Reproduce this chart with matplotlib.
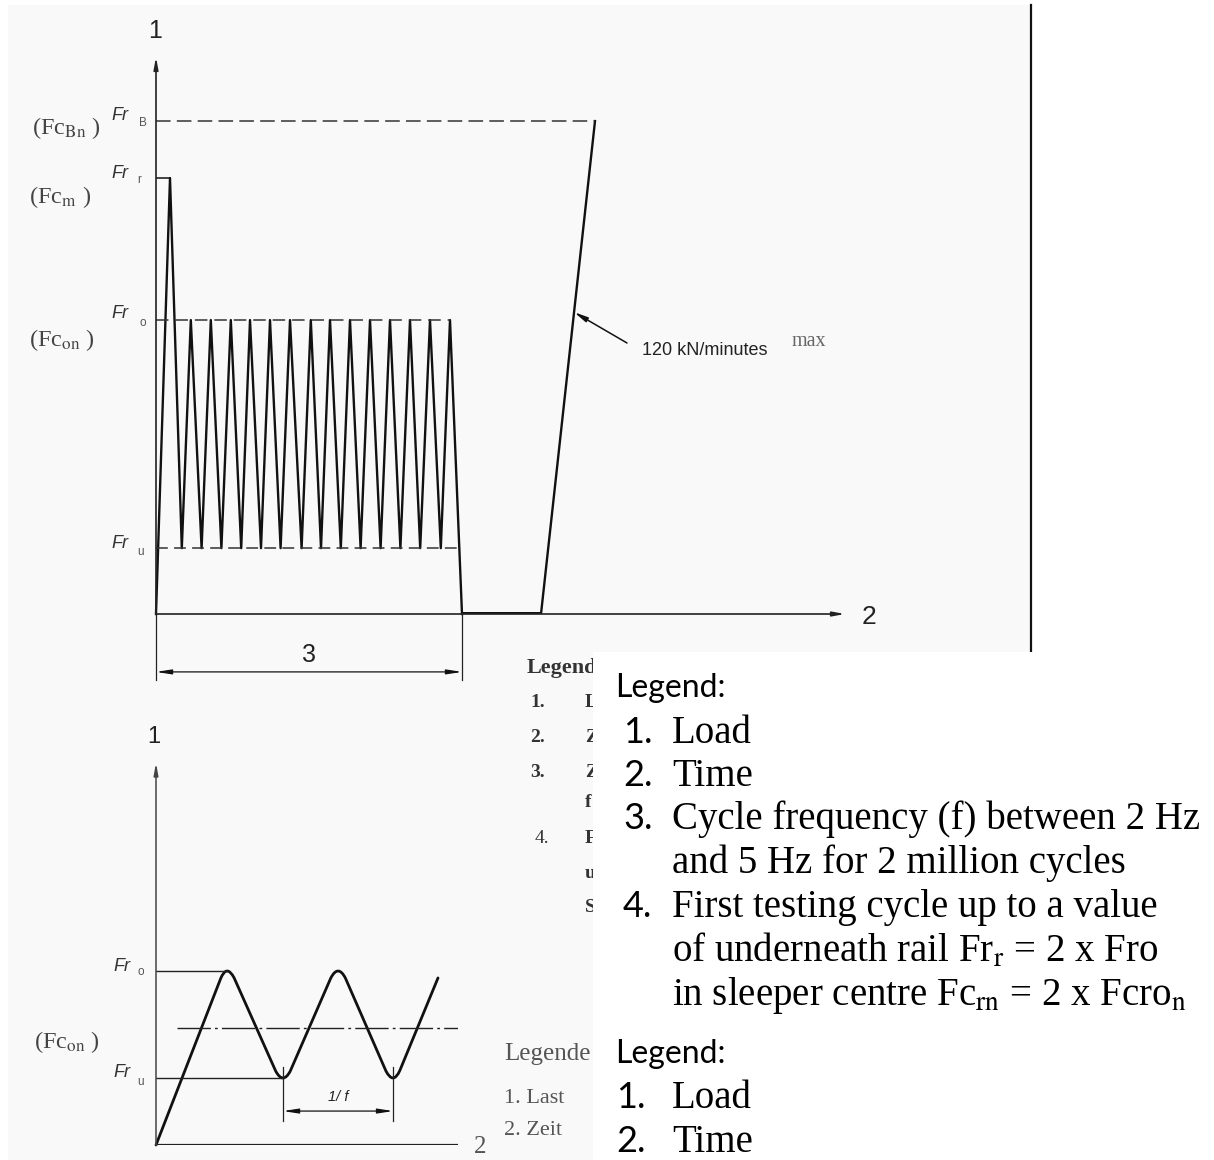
import numpy as np
import matplotlib
matplotlib.use('Agg')
import matplotlib.pyplot as plt
from matplotlib.patches import Rectangle, PathPatch
from matplotlib.path import Path
from matplotlib.transforms import IdentityTransform

plt.rcParams['mathtext.fontset'] = 'stix'
plt.rcParams['lines.scale_dashes'] = False

# --------- data: upper diagram (time in load cycles, load with Fr_o = 100) ---------
fr_u, fr_o, fr_r, fr_b = 22.4, 100.0, 148.3, 167.7
spike_t = 0.7
valley_t = [1.29, 2.28, 3.27, 4.26, 5.25, 6.23, 7.28, 8.25, 9.24, 10.23, 11.23, 12.22, 13.21, 14.24]
peak_t = [1.74, 2.74, 3.74, 4.70, 5.70, 6.70, 7.74, 8.70, 9.70, 10.70, 11.70, 12.70, 13.70, 14.70]
drop_t = 15.3
hold_end_t = 19.25
ramp_top_t = 21.95
fr_u_end_t = 15.1
top_xmax, top_ymax = 34.45, 191.2

# --------- data: lower diagram (time in periods 1/f, load with Fr_o = 100) ---------
sine_t = [0, 0.64, 1.144, 1.64, 2.135, 2.54]
sine_v = [0, 100, 38.5, 100, 38.5, 96]
low_fr_o, low_fr_u, low_mean = 100, 38.5, 67.2
mean_span = [0.19, 2.757]
bot_xmax, bot_ymax = 2.72, 219.5

# --------- legend texts ---------
legend_items = [('1.', 'Load'), ('2.', 'Time'),
                ('3.', 'Cycle frequency (f) between 2 Hz'),
                ('', 'and 5 Hz for 2 million cycles'),
                ('4.', 'First testing cycle up to a value'),
                ('', r'of underneath rail Fr$_\mathrm{r}$ = 2 x Fro'),
                ('', r'in sleeper centre Fc$_\mathrm{rn}$ = 2 x Fcro$_\mathrm{n}$')]
legend2_items = [('1.', 'Load'), ('2.', 'Time')]
german_nums = ['1.', '2.', '3.', '', '4.', '', '']
german_words = ['L', 'Z', 'Z', 'f', 'F', 'u', 'S']
german2 = ['1. Last', '2. Zeit']

W, H = 1214, 1160
INK = '#111111'
SCAN = '#333333'
ISO = 'Liberation Sans'
SERIF = 'Liberation Serif'

fig = plt.figure(figsize=(W / 100, H / 100), dpi=100)

bg = fig.add_axes([0, 0, 1, 1])
bg.set_xlim(0, W)
bg.set_ylim(H, 0)
bg.set_axis_off()
bg.add_patch(Rectangle((8, 5), 1023, 647, facecolor='#f9f9f9', edgecolor='none', zorder=0))
bg.add_patch(Rectangle((8, 652), 585, 508, facecolor='#f9f9f9', edgecolor='none', zorder=0))
bg.plot([1031, 1031], [5, 652], color=INK, lw=1.6, zorder=1)


def arrow(ax, start, end, style='-|>', hl=0.7, hw=0.13, lw=1.1, color=INK):
    ax.annotate('', xy=end, xytext=start, annotation_clip=False,
                arrowprops=dict(arrowstyle=f'{style},head_length={hl},head_width={hw}',
                                lw=lw, color=color, shrinkA=0, shrinkB=0))


def label(ax, xy, txt, dx, dy, **kw):
    opts = dict(ha='center', va='center', textcoords='offset pixels', annotation_clip=False)
    opts.update(kw)
    ax.annotate(txt, xy=xy, xytext=(dx, dy), **opts)


def fr_label(ax, level, sub, dx, dy, sdx, sdy):
    label(ax, (0, level), 'Fr', dx, dy, family=ISO, style='italic', fontsize=13, color=SCAN)
    label(ax, (0, level), sub, sdx, sdy, family=ISO, fontsize=8.5, color='#555555')


def rounded_line(ax, ts, vs, radius, **kw):
    pts = ax.transData.transform(np.column_stack([ts, vs]))
    verts, codes = [pts[0]], [Path.MOVETO]
    for i in range(1, len(pts) - 1):
        v = pts[i]
        u1 = (pts[i - 1] - v) / np.hypot(*(pts[i - 1] - v))
        u2 = (pts[i + 1] - v) / np.hypot(*(pts[i + 1] - v))
        v = v - 0.25 * radius * (u1 + u2)
        verts += [v + radius * u1, v, v + radius * u2]
        codes += [Path.LINETO, Path.CURVE3, Path.CURVE3]
    verts.append(pts[-1])
    codes.append(Path.LINETO)
    ax.add_patch(PathPatch(Path(verts, codes), fill=False, transform=IdentityTransform(),
                           clip_on=False, capstyle='round', joinstyle='round', **kw))


# ================= upper diagram =================
top = fig.add_axes([156 / W, (H - 614) / H, 689 / W, 562 / H])
top.set_xlim(0, top_xmax)
top.set_ylim(0, top_ymax)
top.set_axis_off()

arrow(top, (0, 0), (0, 189.5), lw=1.2, color='#222222')
arrow(top, (0, 0), (top_xmax, 0), lw=1.2, color='#222222')
top.plot([0, 0], [0, -22.4], color='#222222', lw=0.9, clip_on=False)

wave_t = [0, spike_t]
wave_v = [0, fr_r]
for tv, tp in zip(valley_t, peak_t):
    wave_t += [tv, tp]
    wave_v += [fr_u, fr_o]
wave_t.append(drop_t)
wave_v.append(0)
top.plot(wave_t, wave_v, color=INK, lw=1.7, clip_on=False)
top.plot([drop_t, hold_end_t], [0, 0], color=INK, lw=3.6, solid_capstyle='butt')
top.plot([hold_end_t, ramp_top_t], [0, fr_b], color=INK, lw=1.7)

top.plot([0, ramp_top_t], [fr_b, fr_b], color=SCAN, lw=1.1, ls=(0, (10.5, 4.5)))
top.plot([0, peak_t[-1]], [fr_o, fr_o], color=SCAN, lw=1.1, ls=(0, (9, 5)))
top.plot([0, fr_u_end_t], [fr_u, fr_u], color=SCAN, lw=1.1, ls=(0, (8.5, 4.5)))
top.plot([0, spike_t], [fr_r, fr_r], color=INK, lw=1.1)

# dimension "3"
top.plot([drop_t, drop_t], [0, -22.4], color='#222222', lw=0.9, clip_on=False)
arrow(top, (drop_t, -19.7), (0, -19.7), style='<|-|>', hl=0.9, hw=0.14, lw=0.9)
label(top, (drop_t / 2, -19.7), '3', 0, 17, family=ISO, fontsize=18, color='#222222')

label(top, (0, 189.5), '1', -1, 26, family=ISO, fontsize=18, color='#222222')
label(top, (top_xmax, 0), '2', 24, -3, family=ISO, fontsize=19, color='#222222')

fr_label(top, fr_b, 'B', -36, 6, -13, -2)
fr_label(top, fr_r, 'r', -36, 5, -17, -2)
fr_label(top, fr_o, 'o', -36, 7, -13, -3)
fr_label(top, fr_u, 'u', -36, 5, -15, -4)
label(top, (0, fr_b), r'(Fc$_\mathrm{Bn}$ )', -124, -7, ha='left', family=SERIF, fontsize=17.5, color='#444444')
label(top, (0, fr_r), r'(Fc$_\mathrm{m}$ )', -127, -19, ha='left', family=SERIF, fontsize=17.5, color='#444444')
label(top, (0, fr_o), r'(Fc$_\mathrm{on}$ )', -127, -20, ha='left', family=SERIF, fontsize=17.5, color='#444444')

arrow(top, (23.55, 92.2), (20.9, 102.7), hl=0.8, hw=0.15, lw=1.1)
top.text(24.3, 89.8, '120 kN/minutes', ha='left', va='center', family=ISO, fontsize=13, color='#222222')
top.text(31.8, 92.6, 'max', ha='left', va='center', family=SERIF, fontsize=14.5, color='#666666')

# ================= lower diagram =================
bot = fig.add_axes([156 / W, (H - 1145) / H, 302 / W, 382 / H])
bot.set_xlim(0, bot_xmax)
bot.set_ylim(0, bot_ymax)
bot.set_axis_off()

arrow(bot, (0, 0), (0, bot_ymax), lw=1.1, color='#444444')
bot.plot([0, bot_xmax], [0, 0], color='#222222', lw=1.6)
bot.plot([0, sine_t[1]], [low_fr_o, low_fr_o], color='#222222', lw=1.0)
bot.plot([0, sine_t[2]], [low_fr_u, low_fr_u], color='#222222', lw=1.0)
bot.plot(mean_span, [low_mean, low_mean], color='#222222', lw=1.0, ls=(0, (24, 3, 2, 3)))
rounded_line(bot, sine_t, sine_v, 16, edgecolor=INK, lw=2.0)

for tv in (sine_t[2], sine_t[4]):
    bot.plot([tv, tv], [13.8, 44.8], color='#222222', lw=0.9)
arrow(bot, (sine_t[4], 19.5), (sine_t[2], 19.5), style='<|-|>', hl=0.9, hw=0.14, lw=0.9)
bot.text((sine_t[2] + sine_t[4]) / 2, 27.6, '1/ f', ha='center', va='center', family=ISO,
         style='italic', fontsize=10.5, color='#222222')

label(bot, (0, bot_ymax), '1', -2, 26, family=ISO, fontsize=17, color='#222222')
label(bot, (bot_xmax, 0), '2', 22, -2, family=SERIF, fontsize=18, color='#555555')
fr_label(bot, low_fr_o, 'o', -34, 4, -15, -1)
fr_label(bot, low_fr_u, 'u', -34, 5, -15, -4)
label(bot, (0, low_fr_u), r'(Fc$_\mathrm{on}$ )', -122, 36, ha='left', family=SERIF, fontsize=17.5, color='#444444')

# ================= legends =================
clip = Rectangle((0, 0), 593, H, transform=bg.transData)
german_base = [707, 742, 777, 807, 843, 878, 912]
t = bg.text(527, 673, 'Legend', family=SERIF, weight='bold', fontsize=16, color=SCAN, zorder=2)
t.set_clip_path(clip)
for num, word, yb in zip(german_nums, german_words, german_base):
    if num:
        bg.text(530 if num != '4.' else 535, yb, num, family=SERIF, weight='bold' if num != '4.' else 'normal',
                fontsize=14, color=SCAN, zorder=2)
    t = bg.text(585, yb, word, family=SERIF, weight='bold', fontsize=14, color=SCAN, zorder=2)
    t.set_clip_path(clip)
t = bg.text(504, 1060, 'Legende', family=SERIF, fontsize=18, color='#555555', zorder=2)
t.set_clip_path(clip)
for txt, yb in zip(german2, [1103, 1135]):
    bg.text(504, yb, txt, family=SERIF, fontsize=16, color='#555555', zorder=2)

bg.add_patch(Rectangle((593, 652), W - 593, H - 652, facecolor='white', edgecolor='none', zorder=5))

bg.text(615, 697, 'Legend:', family='Lato', fontsize=23, color='black', zorder=6)
for (num, txt), yb in zip(legend_items, [743, 786, 829, 873, 917, 962, 1005]):
    if num:
        bg.text(623, yb, num, family='Lato', fontsize=26, color='black', zorder=6)
    bg.text(672, yb, txt, family=SERIF, fontsize=28, color='black', zorder=6)

bg.text(615, 1063, 'Legend:', family='Lato', fontsize=23, color='black', zorder=6)
for (num, txt), yb in zip(legend2_items, [1108, 1152]):
    bg.text(616, yb, num, family='Lato', fontsize=26, color='black', zorder=6)
    bg.text(672, yb, txt, family=SERIF, fontsize=28, color='black', zorder=6)

fig.savefig('out.png', dpi=100)
